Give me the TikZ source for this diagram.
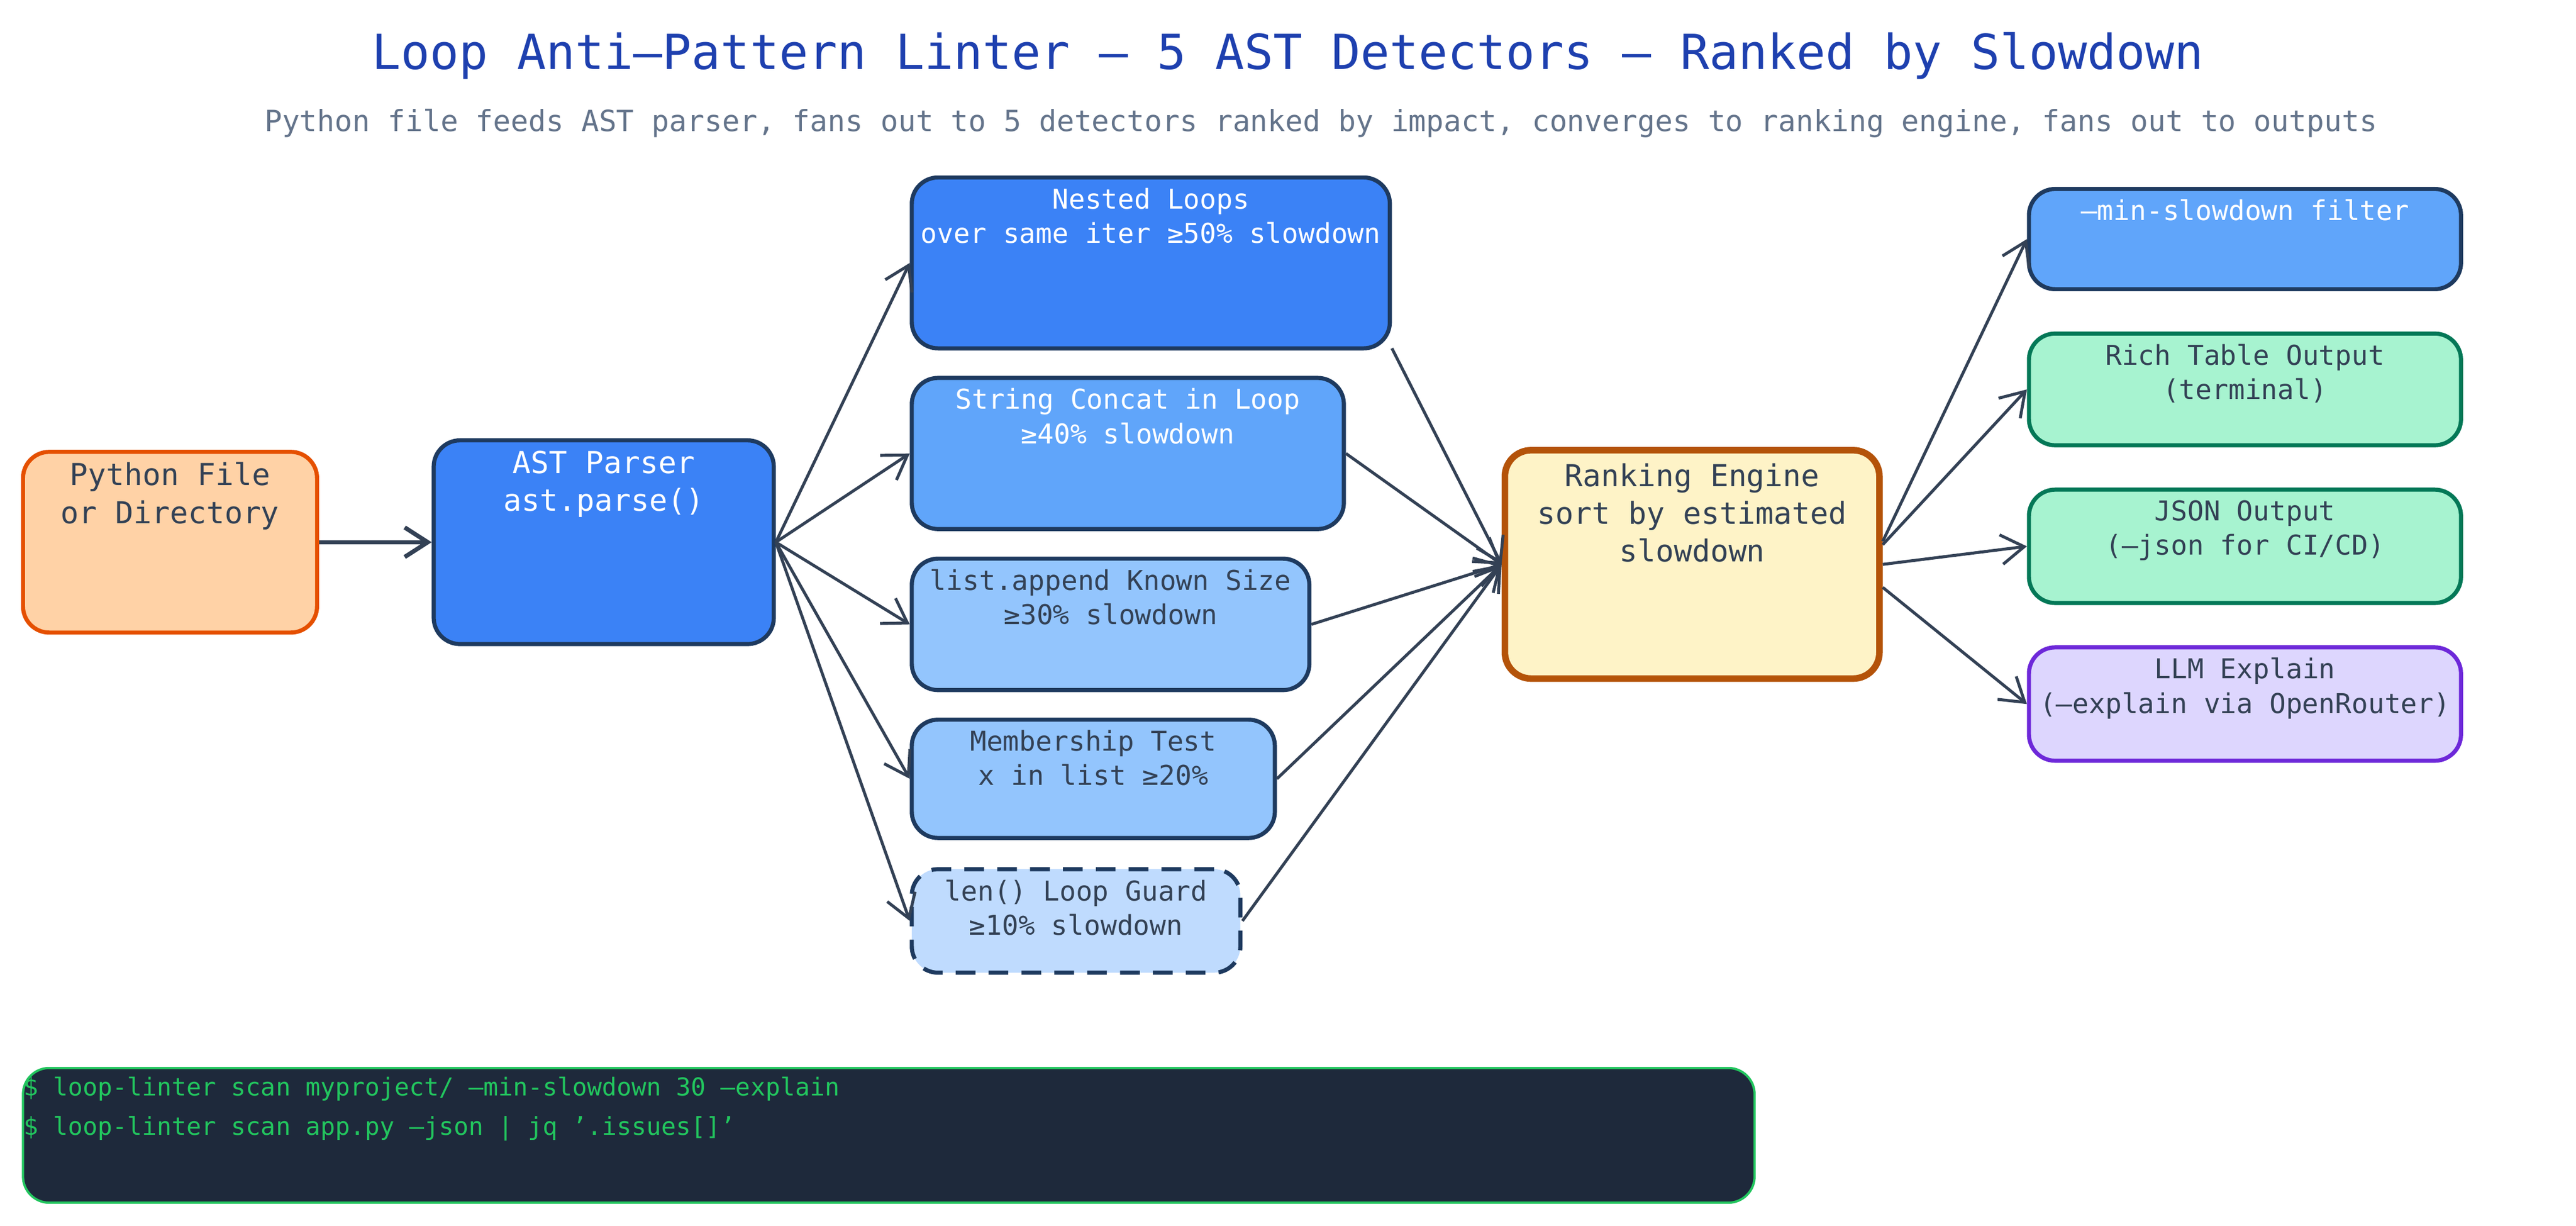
\documentclass[tikz,border=0pt]{standalone}
\usepackage{fontspec}
\setmainfont{DejaVu Sans Mono}
\usetikzlibrary{arrows.meta}
\definecolor{tcol}{HTML}{1E40AF}
\definecolor{scol}{HTML}{64748B}
\definecolor{dark}{HTML}{1E3A5F}
\definecolor{txt}{HTML}{334155}
\definecolor{arr}{HTML}{334155}
\begin{document}
\begin{tikzpicture}[x=0.5pt,y=-0.5pt,
 box/.style={draw,rounded corners=8pt,line width=1.25pt,inner sep=0pt,align=center,font=\fontsize{8.3}{10.5}\selectfont},
 arrow/.style={draw=arr,line width=0.9pt,-{Straight Barb[length=7pt,width=9pt]}}]
\useasboundingbox (0,0) rectangle (1568,746);
\fill[white] (0,0) rectangle (1568,746);
\newcommand{\bx}[7]{% name, x1,y1,x2,y2, style, text
 \node[box,#6,minimum width={(#4-#2)*0.5pt},minimum height={(#5-#3)*0.5pt}] (#1) at ({(#2+#4)/2},{(#3+#5)/2}) {};
 \node[align=center,anchor=north,inner sep=0pt,font=\fontsize{8.3}{10.5}\selectfont,#6,draw=none,fill=none] at ({(#2+#4)/2},{#3+6}) {#7};}
\node[tcol,font=\fontsize{14.7}{16}\selectfont] (title) at (784,34) {Loop Anti–Pattern Linter – 5 AST Detectors – Ranked by Slowdown};
\node[scol,font=\fontsize{8.9}{10}\selectfont] (sub) at (804,75) {Python file feeds AST parser, fans out to 5 detectors ranked by impact, converges to ranking engine, fans out to outputs};
\bx{py}{14}{275}{193}{385}{fill=orange!35!white,draw=orange!70!red!90!black,text=txt,font=\fontsize{9.2}{11.5}\selectfont}{Python File\\or Directory}
\bx{ast}{264}{268}{471}{392}{fill={rgb,255:red,59;green,130;blue,246},draw=dark,text=white,font=\fontsize{9.2}{11.5}\selectfont}{AST Parser\\ast.parse()}
\bx{d1}{555}{108}{846}{212}{fill={rgb,255:red,59;green,130;blue,246},draw=dark,text=white}{Nested Loops\\over same iter  ≥50\% slowdown}
\bx{d2}{555}{230}{818}{322}{fill={rgb,255:red,96;green,165;blue,250},draw=dark,text=white}{String Concat in Loop\\≥40\% slowdown}
\bx{d3}{555}{340}{797}{420}{fill={rgb,255:red,147;green,197;blue,253},draw=dark,text=txt}{list.append Known Size\\≥30\% slowdown}
\bx{d4}{555}{438}{776}{510}{fill={rgb,255:red,147;green,197;blue,253},draw=dark,text=txt}{Membership Test\\x in list  ≥20\%}
\bx{d5}{555}{529}{755}{592}{fill={rgb,255:red,191;green,219;blue,254},draw=dark,text=txt,dashed,dash pattern=on 6pt off 4pt}{len() Loop Guard\\≥10\% slowdown}
\bx{rk}{916}{274}{1144}{413}{fill={rgb,255:red,254;green,243;blue,199},draw={rgb,255:red,180;green,83;blue,9},line width=2pt,text=txt,font=\fontsize{9.2}{11.5}\selectfont}{Ranking Engine\\sort by estimated\\slowdown}
\bx{o1}{1235}{115}{1498}{176}{fill={rgb,255:red,96;green,165;blue,250},draw=dark,text=white}{--min-slowdown filter}
\bx{o2}{1235}{203}{1498}{271}{fill={rgb,255:red,167;green,243;blue,208},draw={rgb,255:red,4;green,120;blue,87},text=txt}{Rich Table Output\\(terminal)}
\bx{o3}{1235}{298}{1498}{367}{fill={rgb,255:red,167;green,243;blue,208},draw={rgb,255:red,4;green,120;blue,87},text=txt}{JSON Output\\(--json for CI/CD)}
\bx{o4}{1235}{394}{1498}{463}{fill={rgb,255:red,221;green,214;blue,254},draw={rgb,255:red,109;green,40;blue,217},text=txt}{LLM Explain\\(--explain via OpenRouter)}
\node[draw={rgb,255:red,34;green,197;blue,94},fill={rgb,255:red,30;green,41;blue,59},rounded corners=8pt,line width=0.7pt,minimum width=527pt,minimum height=41pt,inner sep=0pt] (term) at (541,691) {};
\node[anchor=north west,inner sep=0pt,align=left,text={rgb,255:red,34;green,197;blue,94},font=\fontsize{7.5}{12}\selectfont] at (14,655) {\$ loop-linter scan myproject/ --min-slowdown 30 --explain\\\$ loop-linter scan app.py --json | jq '.issues[]'};
\draw[arrow,line width=1.3pt] (py.east) -- (ast.west);
\foreach \d in {d1,d2,d3,d4,d5} \draw[arrow] (ast.east) -- ([yshift=0pt]\d.west);
\draw[arrow] ([yshift=-26pt]d1.east) -- (rk.west);
\draw[arrow] ([yshift=-0pt]d2.east) -- (rk.west);
\draw[arrow] (d3.east) -- (rk.west);
\draw[arrow] (d4.east) -- (rk.west);
\draw[arrow] (d5.east) -- (rk.west);
\draw[arrow] ([yshift=7pt]rk.east) -- (o1.west);
\draw[arrow] ([yshift=6pt]rk.east) -- (o2.west);
\draw[arrow] (rk.east) -- (o3.west);
\draw[arrow] ([yshift=-7pt]rk.east) -- (o4.west);
\end{tikzpicture}
\end{document}
